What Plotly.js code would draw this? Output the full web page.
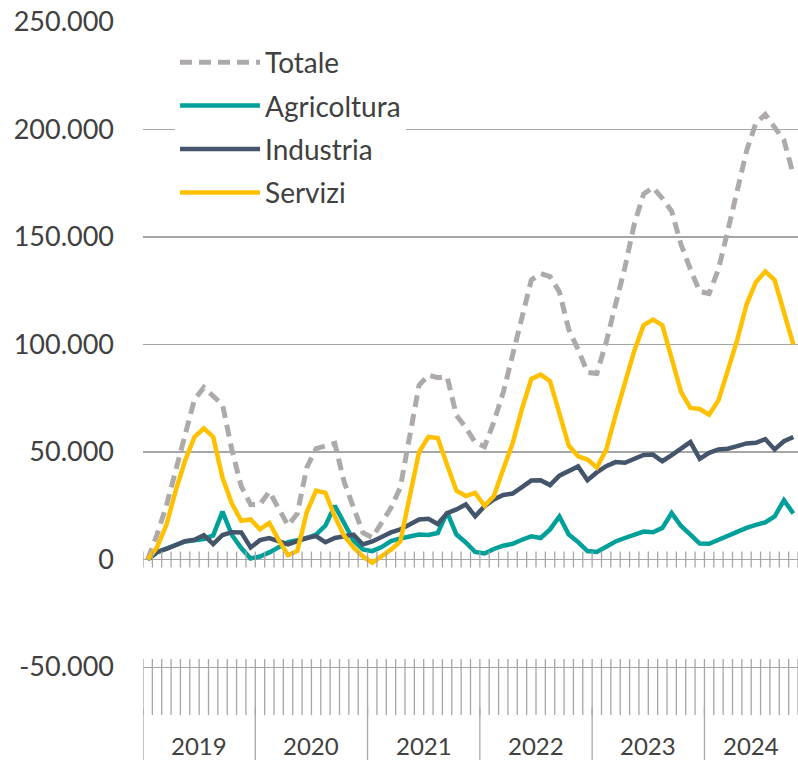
<!DOCTYPE html>
<html><head><meta charset="utf-8">
<script src="https://cdn.plot.ly/plotly-3.0.1.min.js"></script>
<style>html,body{margin:0;padding:0;background:#fff}</style>
</head><body>
<div id="chart" style="width:798px;height:760px"></div>
<script>
const years = ['2019','2020','2021','2022','2023','2024'];
const monthsInYear = [12,12,12,12,12,10];
const monthNames = ['gen','feb','mar','apr','mag','giu','lug','ago','set','ott','nov','dic'];
const seriesNames = ['Totale','Agricoltura','Industria','Servizi'];

const totale = [0,11600,25000,42000,59500,74400,80000,76000,72000,51000,34000,25600,
  25600,31600,24000,15800,21400,42800,51600,53000,54000,36000,24000,12500,
  10200,16700,24000,33500,56000,81000,85800,84600,85000,67000,61400,54400,
  52500,64000,77700,95000,112500,130000,133000,131600,124500,107000,97700,87000,
  86500,101000,118600,135800,156000,170000,173000,168000,162000,146500,135000,124600,
  123700,135000,153000,172000,190000,203000,207000,201000,195000,179000];
const agricoltura = [0,3300,5100,7000,8400,9000,9500,11200,22300,11400,5300,500,
  1400,3300,6000,8100,9000,10000,11600,15800,25000,16700,8800,4700,
  3900,5800,8600,9800,10600,11600,11400,12300,21900,11600,7900,3500,
  2800,4900,6400,7300,9200,10800,10000,14000,20000,11600,8100,3900,
  3500,6200,8400,10000,11600,13000,12700,14700,21600,15600,11600,7400,
  7300,9200,11200,13000,14700,16100,17300,20000,27600,21400];
const industria = [0,3500,4900,6700,8500,9200,11300,7200,11400,12700,12600,5600,
  9000,10000,8500,7000,8500,10000,10900,8000,10000,10800,11600,7000,
  8400,10500,12600,14000,16300,18600,18900,16500,21600,23300,25600,20100,
  24800,27900,30000,30700,33700,36700,36900,34600,39000,41000,43300,36900,
  40500,43400,45300,45000,47000,48600,48800,45700,48600,51900,54600,46800,
  49600,51200,51500,52700,54000,54300,56000,51200,55000,57000];
const servizi = [0,5600,16000,32000,46000,57000,61000,57000,38000,26000,18000,18600,
  14000,17000,9000,2000,4000,22000,32000,31000,20000,11000,5600,1400,
  -1500,1400,4600,8400,30000,50000,57000,56500,44000,32000,29500,31000,
  25000,29500,42000,54000,70000,84000,86000,83000,68000,53000,48000,46500,
  42800,51000,67000,82000,97000,109000,111600,109000,92500,78000,70500,70000,
  67400,74000,88000,102000,118600,129000,134000,130000,115000,100000];

const yTickVals = [-50000,0,50000,100000,150000,200000,250000];
const yTickText = ['-50.000','0','50.000','100.000','150.000','200.000','250.000'];

// categories (month + year), drawn on an index axis
const categories = [];
const yearStart = [];
years.forEach((y, k) => {
  yearStart.push(categories.length);
  for (let m = 0; m < monthsInYear[k]; m++) categories.push(monthNames[m] + ' ' + y);
});
const idx = categories.map((c, i) => i);

const FONT = 'Lato, "Open Sans", sans-serif';
const TXT = '#404040';
const GRID = '#a6a6a6';
const Y_DOMAIN_BOTTOM = 0.12602;

const colors = ['#aeaaaa', '#00a09a', '#44546a', '#ffc000'];
const seriesData = [totale, agricoltura, industria, servizi];

const traces = seriesData.map((d, k) => ({
  type: 'scatter', mode: 'lines', name: seriesNames[k], legendgroup: seriesNames[k],
  x: idx, y: d, text: categories,
  line: {color: colors[k], width: k === 0 ? 5 : 4.5, dash: k === 0 ? '12px,7px' : 'solid'},
  hovertemplate: '%{text}: %{y}<extra>' + seriesNames[k] + '</extra>'
}));

const shapes = [];
for (let b = 0; b <= categories.length; b++) {
  // tick marks crossing the zero line
  shapes.push({type: 'line', xref: 'x', yref: 'y', x0: b - 0.5, x1: b - 0.5,
    ysizemode: 'pixel', yanchor: 0, y0: -8, y1: 8, line: {color: GRID, width: 1.3}});
  // month dividers of the category axis at the bottom
  shapes.push({type: 'line', xref: 'x', yref: 'paper', x0: b - 0.5, x1: b - 0.5,
    ysizemode: 'pixel', yanchor: Y_DOMAIN_BOTTOM, y0: -48, y1: 8, line: {color: GRID, width: 1.3}});
}
yearStart.forEach(s => {
  shapes.push({type: 'line', xref: 'x', yref: 'paper', x0: s - 0.5, x1: s - 0.5,
    ysizemode: 'pixel', yanchor: Y_DOMAIN_BOTTOM, y0: -93, y1: -41, line: {color: GRID, width: 1.3}});
});

const annotations = years.map((y, k) => ({
  xref: 'x', yref: 'paper', x: yearStart[k] + (monthsInYear[k] - 1) / 2, y: 0.0203,
  yanchor: 'middle', xanchor: 'center', text: y, showarrow: false,
  font: {family: FONT, size: 24, color: TXT}
}));

const layout = {
  width: 798, height: 760,
  margin: {l: 143, r: 0, t: 22, b: 0},
  paper_bgcolor: '#ffffff', plot_bgcolor: '#ffffff',
  showlegend: true,
  legend: {x: 0.0489, y: 0.979, xanchor: 'left', yanchor: 'top', bgcolor: '#ffffff',
    font: {family: FONT, size: 28, color: TXT}, itemwidth: 80, tracegroupgap: 4},
  xaxis: {range: [-0.5, 69.5], showgrid: false, zeroline: false, showticklabels: false,
    ticks: '', showline: true, linecolor: GRID, linewidth: 1.3, fixedrange: true},
  yaxis: {domain: [Y_DOMAIN_BOTTOM, 1], range: [-50000, 250000], tickmode: 'array',
    tickvals: yTickVals, ticktext: yTickText, showgrid: true, gridcolor: GRID, gridwidth: 1.3,
    zeroline: true, zerolinecolor: GRID, zerolinewidth: 1.5, ticks: '', ticklabelstandoff: 28,
    tickfont: {family: FONT, size: 27, color: TXT}, showline: false, fixedrange: true},
  shapes: shapes,
  annotations: annotations
};

Plotly.newPlot('chart', traces, layout, {displayModeBar: false, staticPlot: true});
</script>
</body></html>
